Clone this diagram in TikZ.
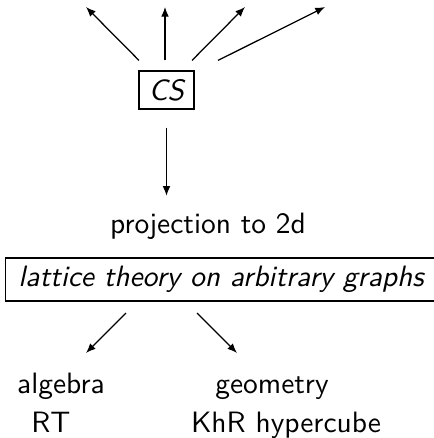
\documentclass[tikz,border=0pt]{standalone}
\usetikzlibrary{arrows.meta,calc}
\begin{document}
\begin{tikzpicture}[x=0.36pt, y=0.36pt, font=\fontsize{10.6}{13}\sffamily,
    box/.style={draw, line width=0.4pt, inner sep=0pt},
    arr/.style={-{Latex[length=3.5pt,width=2.8pt]}, line width=0.45pt}]
  \useasboundingbox (0,0) rectangle (433,-438);

  % Source box
  \node[box, font=\fontsize{10.6}{13}\sffamily\itshape, minimum width=19.8pt, minimum height=13.7pt] (cs) at (166.5,-90) {CS};

  % Fan of arrows above the box
  \foreach \i/\dx/\ex in {1/-27.5/86, 2/-1.5/165, 3/25.5/245, 4/51.5/325} {
    \coordinate (fan\i s) at ($(cs.north)+(\dx,10)$);
    \coordinate (fan\i) at (\ex,-7);
    \draw[arr] (fan\i s) -- (fan\i);
  }

  % Projection step
  \node[anchor=base] (proj) at (208,-233) {projection to 2d};
  \draw[arr, shorten <=6.5pt, shorten >=2.5pt] (cs.south) -- (proj.north -| cs.south);

  % Lattice theory box (runs past the right edge)
  \node[box, font=\fontsize{10.6}{13}\sffamily\itshape, minimum width=155pt, minimum height=15.5pt] (lat) at (221,-279.5) {lattice theory on arbitrary graphs};

  % Branches
  \coordinate (algs) at (126,-313);
  \coordinate (alge) at (86,-353);
  \coordinate (geos) at (197,-313);
  \coordinate (geoe) at (237,-353);
  \draw[arr] (algs) -- (alge);
  \draw[arr] (geos) -- (geoe);

  % Labels
  \node[anchor=base] (alg) at (61,-393) {algebra};
  \node[anchor=base] (geo) at (272,-393) {geometry};
  \node[anchor=base] (rt) at (51,-432) {RT};
  \node[anchor=base] (khr) at (286,-432) {KhR hypercube};
\end{tikzpicture}
\end{document}
